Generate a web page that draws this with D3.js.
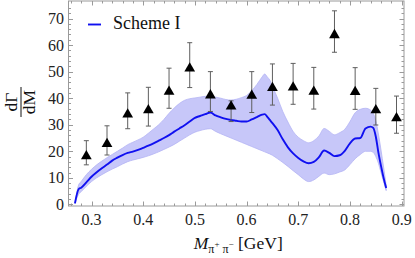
<!DOCTYPE html>
<html>
<head>
<meta charset="utf-8">
<script src="https://cdn.jsdelivr.net/npm/d3@7"></script>
<style>
    body { margin: 0; background: #fff; }
    text { font-family: "Liberation Serif", "Times New Roman", serif; }
</style>
</head>
<body>
<svg class="chart" width="415" height="258"></svg>
<script>
// Theory curve: invariant mass grid, central value and uncertainty band.
let massGrid = [0.268, 0.275, 0.28, 0.29, 0.30, 0.31, 0.32, 0.33, 0.34, 0.35, 0.36, 0.37, 0.38, 0.39,
    0.40, 0.41, 0.42, 0.43, 0.44, 0.45, 0.46, 0.47, 0.48, 0.49, 0.50, 0.51, 0.52, 0.53, 0.54, 0.55,
    0.56, 0.57, 0.58, 0.59, 0.60, 0.61, 0.62, 0.63, 0.635, 0.64, 0.645, 0.65, 0.66, 0.67, 0.68, 0.69,
    0.70, 0.71, 0.72, 0.73, 0.74, 0.75, 0.76, 0.77, 0.78, 0.79, 0.80, 0.81, 0.82, 0.83, 0.84, 0.845,
    0.85, 0.855, 0.86, 0.865, 0.87];
let centralCurve = [0.4, 5.7, 6.3, 8.3, 10.4, 12.1, 13.6, 15.0, 16.5, 17.6, 18.6, 19.4, 19.9, 20.5,
    21.3, 22.1, 23.0, 24.0, 25.0, 26.1, 27.4, 28.6, 29.8, 31.2, 32.6, 33.3, 34.0, 34.6, 33.5, 32.8,
    32.2, 31.8, 31.5, 31.2, 31.2, 32.0, 32.9, 33.8, 34.0, 33.0, 31.8, 30.6, 28.0, 24.5, 21.5, 19.2,
    17.5, 16.2, 15.5, 16.0, 17.8, 20.3, 19.4, 18.2, 18.5, 20.2, 23.0, 24.8, 25.0, 28.6, 29.3, 28.8,
    25.5, 19.5, 14.5, 10.0, 6.2];
let bandUpper = [0.6, 7.3, 8.6, 11.2, 13.2, 14.9, 16.3, 17.6, 18.8, 20.0, 21.2, 22.5, 23.4, 24.3,
    25.3, 26.8, 28.4, 30.0, 32.0, 34.3, 36.3, 38.0, 39.2, 39.8, 40.1, 40.4, 40.7, 40.8, 40.4, 40.0,
    39.5, 39.3, 39.6, 40.2, 41.0, 42.8, 45.2, 48.0, 49.1, 48.0, 46.8, 44.5, 40.0, 35.0, 31.0, 27.5,
    25.3, 24.0, 23.2, 24.0, 25.8, 28.6, 27.5, 26.2, 27.0, 28.3, 31.2, 34.5, 35.8, 36.2, 35.5, 34.3,
    31.5, 26.5, 20.5, 14.0, 7.2];
let bandLower = [0.3, 3.8, 4.8, 6.8, 8.6, 10.0, 11.2, 12.3, 13.3, 14.2, 15.2, 16.1, 16.7, 17.2,
    17.7, 18.3, 19.0, 19.8, 20.7, 21.6, 22.6, 23.8, 25.0, 26.2, 27.2, 27.8, 28.3, 28.5, 27.5, 26.6,
    25.8, 25.0, 24.2, 23.4, 22.6, 21.8, 21.0, 20.2, 19.8, 19.4, 19.0, 18.5, 17.2, 15.8, 14.3, 12.7,
    11.2, 9.6, 8.6, 9.2, 10.6, 11.8, 11.2, 11.5, 12.2, 13.0, 15.0, 17.2, 18.8, 20.0, 20.0, 19.6,
    18.0, 15.5, 12.0, 8.5, 5.2];

// Measured points with error bars.
let pointMass = [0.29, 0.33, 0.37, 0.41, 0.45, 0.49, 0.53, 0.57, 0.61, 0.65, 0.69, 0.73, 0.77, 0.81, 0.85, 0.89];
let pointValue = [19.5, 24.1, 35.2, 36.8, 43.8, 52.5, 42.4, 38.2, 42.3, 45.2, 45.4, 43.8, 65.1, 43.7, 36.8, 33.8];
let pointLow = [14.9, 18.6, 28.5, 29.5, 36.2, 44.0, 35.0, 31.2, 34.6, 37.4, 37.7, 35.9, 57.3, 35.8, 29.9, 26.8];
let pointHigh = [24.0, 29.6, 42.0, 44.1, 51.3, 60.9, 50.0, 39.0, 50.0, 52.9, 53.1, 51.6, 72.9, 51.5, 43.7, 40.8];

// Axis ticks.
let xTicks = [0.3, 0.4, 0.5, 0.6, 0.7, 0.8, 0.9];
let yTicks = [0, 10, 20, 30, 40, 50, 60, 70];
let legendLabel = "Scheme I";

let svg = d3.select(".chart");

let frame = { left: 68.5, right: 404, top: 1, bottom: 206 };

let xScale = d3.scaleLinear()
    .domain([0.2555, 0.9045])
    .range([frame.left, frame.right]);
let yScale = d3.scaleLinear()
    .domain([-0.6, 76.6])
    .range([frame.bottom, frame.top]);

let curveData = massGrid.map((m, i) => ({ m: m, c: centralCurve[i], lo: bandLower[i], hi: bandUpper[i] }));

// Draw uncertainty band.
let bandArea = d3.area()
    .x(d => xScale(d.m))
    .y0(d => yScale(d.lo))
    .y1(d => yScale(d.hi))
    .curve(d3.curveMonotoneX);
svg.append("path")
    .attr("d", bandArea(curveData))
    .attr("fill", "#c7c7f9")
    .attr("stroke", "#b4b4f4")
    .attr("stroke-width", 0.8);

// Draw central line.
let centralLine = d3.line()
    .x(d => xScale(d.m))
    .y(d => yScale(d.c))
    .curve(d3.curveMonotoneX);
svg.append("path")
    .attr("d", centralLine(curveData))
    .attr("fill", "none")
    .attr("stroke", "#1010f0")
    .attr("stroke-width", 1.9)
    .style("stroke-linejoin", "round");

// Draw frame and ticks (Mathematica style, ticks inward on all sides).
let tickColor = "#9a9a9a";
svg.append("rect")
    .attr("x", frame.left)
    .attr("y", frame.top)
    .attr("width", frame.right - frame.left)
    .attr("height", frame.bottom - frame.top)
    .attr("fill", "none")
    .attr("stroke", tickColor)
    .attr("stroke-width", 1);

let xMinor = d3.range(0.26, 0.9001, 0.02).map(v => +v.toFixed(2)).filter(v => !xTicks.includes(v));
let yMinor = d3.range(0, 76, 2).filter(v => !yTicks.includes(v));
let ticksGroup = svg.append("g")
    .attr("stroke", tickColor)
    .attr("stroke-width", 1);

function drawXTicks(values, len) {
    values.forEach(v => {
        let x = Math.round(xScale(v)) + 0.5;
        ticksGroup.append("line").attr("x1", x).attr("x2", x).attr("y1", frame.bottom).attr("y2", frame.bottom - len);
        ticksGroup.append("line").attr("x1", x).attr("x2", x).attr("y1", frame.top).attr("y2", frame.top + len);
    });
}
function drawYTicks(values, len) {
    values.forEach(v => {
        let y = Math.round(yScale(v)) + 0.5;
        ticksGroup.append("line").attr("x1", frame.left).attr("x2", frame.left + len).attr("y1", y).attr("y2", y);
        ticksGroup.append("line").attr("x1", frame.right).attr("x2", frame.right - len).attr("y1", y).attr("y2", y);
    });
}
drawXTicks(xTicks, 4.5);
drawXTicks(xMinor, 2.5);
drawYTicks(yTicks, 4.5);
drawYTicks(yMinor, 2.5);

// Tick labels.
xTicks.forEach(v => {
    svg.append("text")
        .attr("x", xScale(v))
        .attr("y", 225)
        .attr("text-anchor", "middle")
        .attr("font-size", 16)
        .attr("fill", "#222")
        .text(v.toFixed(1));
});
yTicks.forEach(v => {
    svg.append("text")
        .attr("x", 64)
        .attr("y", yScale(v) + 5.5)
        .attr("text-anchor", "end")
        .attr("font-size", 16)
        .attr("fill", "#222")
        .text(v);
});

// Draw error bars and triangles.
let points = pointMass.map((m, i) => ({ m: m, v: pointValue[i], lo: pointLow[i], hi: pointHigh[i] }));
let pointsGroup = svg.append("g");
let capWidth = 5;
points.forEach(d => {
    let x = xScale(d.m);
    pointsGroup.append("line")
        .attr("x1", x).attr("x2", x)
        .attr("y1", yScale(d.lo)).attr("y2", yScale(d.hi))
        .attr("stroke", "#5e5e5e").attr("stroke-width", 1);
    [d.lo, d.hi].forEach(e => {
        pointsGroup.append("line")
            .attr("x1", x - capWidth / 2).attr("x2", x + capWidth / 2)
            .attr("y1", yScale(e)).attr("y2", yScale(e))
            .attr("stroke", "#5e5e5e").attr("stroke-width", 1);
    });
});
let triangle = d3.symbol().type(d3.symbolTriangle).size(50);
pointsGroup.selectAll(".marker")
    .data(points)
    .enter()
    .append("path")
    .attr("class", "marker")
    .attr("d", triangle)
    .attr("transform", d => "translate(" + xScale(d.m) + "," + (yScale(d.v) + 3.5) + ")")
    .attr("fill", "#000");

// Legend.
svg.append("line")
    .attr("x1", 88).attr("x2", 101)
    .attr("y1", 24.5).attr("y2", 24.5)
    .attr("stroke", "#1010f0")
    .attr("stroke-width", 1.9);
svg.append("text")
    .attr("x", 113)
    .attr("y", 29)
    .attr("font-size", 18)
    .attr("fill", "#111")
    .text(legendLabel);

// X axis label: M_{pi+ pi-} [GeV]
let xLabel = svg.append("text")
    .attr("x", (frame.left + frame.right) / 2 + 2)
    .attr("y", 249)
    .attr("text-anchor", "middle")
    .attr("font-size", 17.5)
    .attr("fill", "#111");
xLabel.append("tspan").attr("font-style", "italic").text("M");
xLabel.append("tspan").attr("font-size", 12).attr("dy", 3.5).text("π");
xLabel.append("tspan").attr("font-size", 9).attr("dy", -6).text("+");
xLabel.append("tspan").attr("font-size", 12).attr("dy", 6).text(" π");
xLabel.append("tspan").attr("font-size", 9).attr("dy", -6).text("−");
xLabel.append("tspan").attr("dy", 2.5).text(" [GeV]");

// Y axis label: dΓ/dM fraction, rotated.
let yLabel = svg.append("g")
    .attr("transform", "translate(21, 102) rotate(-90)");
yLabel.append("text")
    .attr("x", 0).attr("y", -4)
    .attr("text-anchor", "middle")
    .attr("font-size", 17.5)
    .attr("fill", "#111")
    .text("dΓ");
yLabel.append("line")
    .attr("x1", -15).attr("x2", 15)
    .attr("y1", 0).attr("y2", 0)
    .attr("stroke", "#111")
    .attr("stroke-width", 1);
yLabel.append("text")
    .attr("x", 0).attr("y", 14)
    .attr("text-anchor", "middle")
    .attr("font-size", 17.5)
    .attr("fill", "#111")
    .text("dM");
</script>
</body>
</html>
